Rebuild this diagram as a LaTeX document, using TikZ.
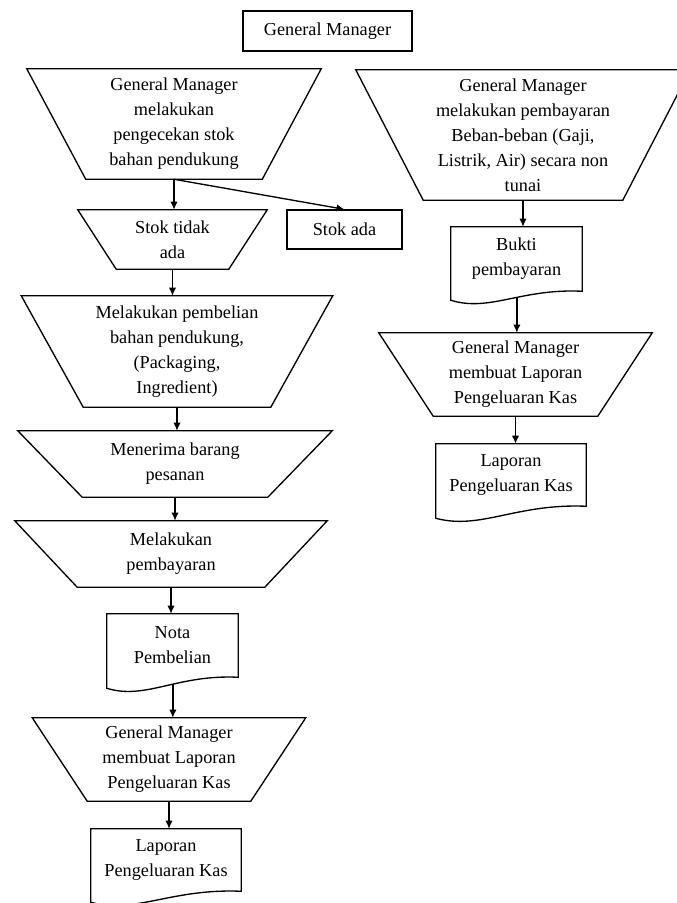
\documentclass[tikz,border=0pt]{standalone}
\usepackage{fontspec}
\setmainfont{Liberation Serif}
\usetikzlibrary{arrows.meta,calc}
\tikzset{
  lw/.style={line width=1pt},
  txt/.style={inner sep=0pt, align=center, font=\fontsize{13.7pt}{18.75pt}\selectfont},
  box/.style={txt, draw, lw},
  shp/.style={draw, lw, line join=miter},
  arr/.style={lw, -{Latex[length=6pt,width=5.5pt]}},
}
% trapezium (wide side on top): name, cx, ytop, top width, bottom width, height, text
\newcommand\trapz[7]{%
  \node[txt, minimum width={#4*0.75pt}, minimum height={#6*0.75pt}] (#1) at (#2,{#3+#6/2}) {#7};
  \draw[shp] (#1.north west) -- (#1.north east)
    -- ([xshift={-(#4-#5)*0.375pt}]#1.south east)
    -- ([xshift={(#4-#5)*0.375pt}]#1.south west) -- cycle;
}
% document shape: name, cx, ytop, width, height at right side, extra drop at left, text
\newcommand\docz[7]{%
  \node[txt, minimum width={#4*0.75pt}, minimum height={#5*0.75pt}] (#1) at (#2,{#3+#5/2}) {#7};
  \draw[shp] (#1.south east) -- (#1.north east) -- (#1.north west)
    -- ([yshift={-#6*0.75pt}]#1.south west)
    .. controls +({0.3*#4},12) and +({-0.47*#4},-3) .. (#1.south east)
    coordinate[pos=0.57] (#1-b) -- cycle;
}
\begin{document}
\begin{tikzpicture}[x=0.75pt, y=-0.75pt]
\useasboundingbox (0,0) rectangle (676,903);

\node[box, minimum width={169*0.75pt}, minimum height={40*0.75pt}] (gm) at (327.5,31) {General Manager};

% left column
\trapz{A}{174}{69}{294}{176}{110}{General Manager\\melakukan\\pengecekan stok\\bahan pendukung}
\trapz{B}{172.5}{210}{189}{112}{59}{Stok tidak\\ada}
\node[box, minimum width={115*0.75pt}, minimum height={39*0.75pt}] (S) at (344.5,229.5) {Stok ada};
\trapz{C}{177}{296}{311}{187}{111}{Melakukan pembelian\\bahan pendukung,\\(Packaging,\\Ingredient)}
\trapz{E}{175}{431}{314}{185}{66}{Menerima barang\\pesanan}
\trapz{F}{171}{521}{312}{187}{66}{Melakukan\\pembayaran}
\docz{N}{172.5}{614}{131}{63}{11}{Nota\\Pembelian}
\trapz{H}{169}{718}{273}{163}{83}{General Manager\\membuat Laporan\\Pengeluaran Kas}
\docz{L}{166}{829}{150}{62}{11}{Laporan\\Pengeluaran Kas}

% right column
\trapz{D}{523}{70}{334}{199}{130}{General Manager\\melakukan pembayaran\\Beban-beban (Gaji,\\Listrik, Air) secara non\\tunai}
\docz{Bk}{516.5}{227}{131}{64}{9}{Bukti\\pembayaran}
\trapz{G}{515.5}{333}{273}{164}{83}{General Manager\\membuat Laporan\\Pengeluaran Kas}
\docz{R}{511}{444}{150}{62}{12}{Laporan\\Pengeluaran Kas}

% connectors
\draw[arr] (A.south) -- (A.south |- B.north);
\draw[arr] (A.south) -- (S.north);
\draw[arr] (B.south) -- (B.south |- C.north);
\draw[arr] (C.south) -- (C.south |- E.north);
\draw[arr] (E.south) -- (E.south |- F.north);
\draw[arr] (F.south) -- (F.south |- N.north);
\draw[arr] (N-b) -- (N-b |- H.north);
\draw[arr] (H.south) -- (H.south |- L.north);
\draw[arr] (D.south) -- (D.south |- Bk.north);
\draw[arr] (Bk-b) -- (Bk-b |- G.north);
\draw[arr] (G.south) -- (G.south |- R.north);
\end{tikzpicture}
\end{document}
